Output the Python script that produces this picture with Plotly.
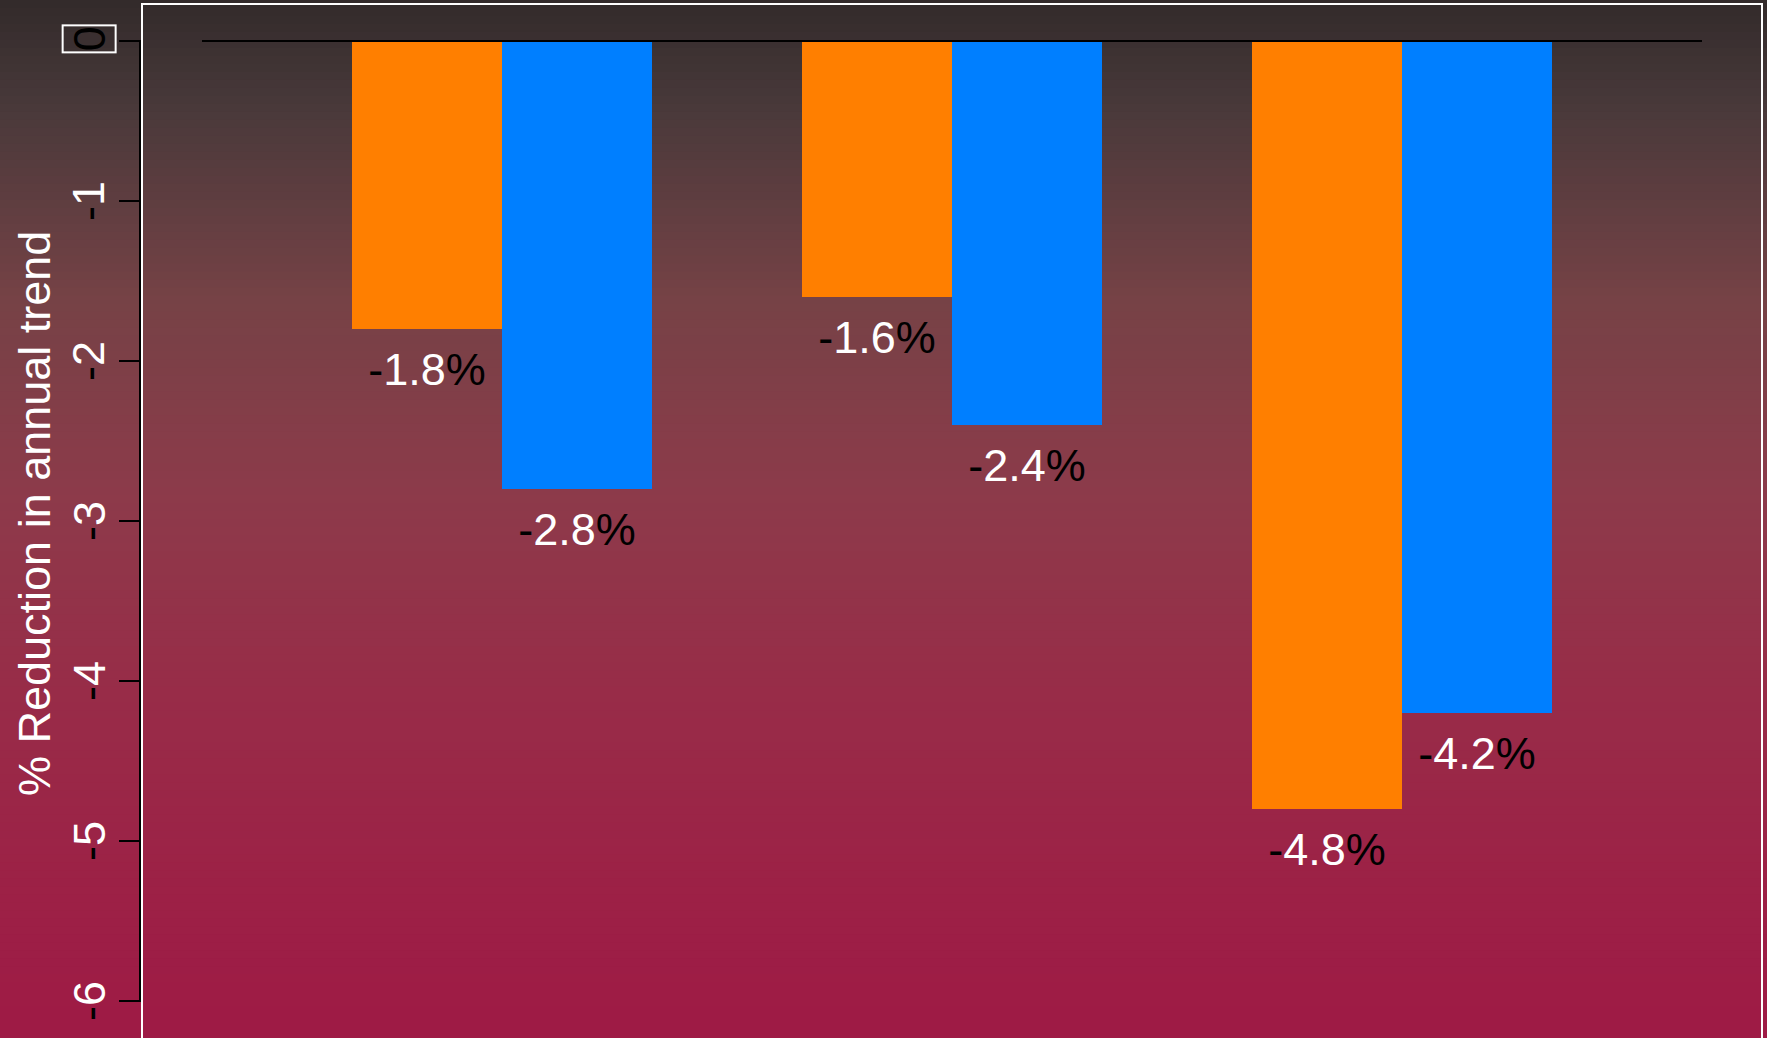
import numpy as np
import plotly.graph_objects as go

# Two bars per group: orange series and blue series (percent change in annual trend)
groups = [0, 1, 2]
orange_values = [-1.8, -1.6, -4.8]
blue_values = [-2.8, -2.4, -4.2]
orange_labels = ["-1.8%", "-1.6%", "-4.8%"]
blue_labels = ["-2.8%", "-2.4%", "-4.2%"]
tick_values = [0, -1, -2, -3, -4, -5, -6]
tick_labels = ["0", "-1", "-2", "-3", "-4", "-5", "-6"]

ORANGE = "#ff7f00"
BLUE = "#007fff"
FONT = "Liberation Sans, Arial, sans-serif"
FS = 45

W, H = 1767, 1038
ML, MR, MT, MB = 142, 5, 4, 0
PW = W - ML - MR
PH = H - MT - MB


def two_tone(s):
    # minus sign and percent glyphs in black, digits in white
    out = ""
    for ch in s:
        if ch in "-%":
            out += '<span style="color:black">' + ch + "</span>"
        else:
            out += ch
    return out


# bar centres: each group holds two unit-width bars after a one-unit gap
x_orange = [3 * g + 1.5 for g in groups]
x_blue = [3 * g + 2.5 for g in groups]

fig = go.Figure()
fig.add_trace(go.Bar(x=x_orange, y=orange_values, width=1.0,
                     marker=dict(color=ORANGE, line=dict(width=0)), showlegend=False))
fig.add_trace(go.Bar(x=x_blue, y=blue_values, width=1.0,
                     marker=dict(color=BLUE, line=dict(width=0)), showlegend=False))

LABEL_OFFSET = 0.28
fig.add_trace(go.Scatter(
    x=x_orange + x_blue,
    y=[v - LABEL_OFFSET for v in orange_values + blue_values],
    text=[two_tone(t) for t in orange_labels + blue_labels],
    mode="text", textposition="middle center",
    textfont=dict(family=FONT, size=FS, color="white"),
    showlegend=False, hoverinfo="skip"))

# vertical background gradient, dark brown at top to crimson at bottom
stops_pos = [0.0, 0.10, 0.29, 0.48, 0.67, 0.87, 1.0]
stops_rgb = np.array([
    [50, 42, 42],
    [72, 57, 58],
    [118, 66, 70],
    [141, 58, 74],
    [152, 44, 72],
    [157, 32, 70],
    [158, 26, 69],
], dtype=float)
shapes = []
n_bands = 130
top_paper = 1 + MT / PH
for i in range(n_bands):
    f = (i + 0.5) / n_bands
    rgb = [np.interp(f, stops_pos, stops_rgb[:, k]) for k in range(3)]
    y1 = top_paper - (i / n_bands) * top_paper
    y0 = top_paper - ((i + 1) / n_bands) * top_paper - 0.002
    shapes.append(dict(type="rect", xref="paper", yref="paper",
                       x0=-ML / PW - 0.01, x1=1 + MR / PW + 0.01, y0=y0, y1=y1,
                       fillcolor="rgb(%d,%d,%d)" % tuple(int(round(c)) for c in rgb),
                       line=dict(width=0), layer="below"))

# white frame round the plotting region
shapes.append(dict(type="rect", xref="paper", yref="paper", x0=0, x1=1, y0=-0.02, y1=1,
                   line=dict(color="white", width=2), fillcolor="rgba(0,0,0,0)", layer="above"))
# left axis spine from 0 to -6
shapes.append(dict(type="line", xref="paper", yref="y", x0=-2 / PW, x1=-2 / PW,
                   y0=tick_values[0], y1=tick_values[-1],
                   line=dict(color="black", width=2), layer="above"))
# baseline at zero across the bar extent
shapes.append(dict(type="line", xref="x", yref="y", x0=0, x1=10, y0=0, y1=0,
                   line=dict(color="black", width=2), layer="above"))

annotations = [
    dict(text="% Reduction in annual trend", xref="paper", yref="paper",
         x=(34 - ML) / PW, y=1 - (514 - MT) / PH, textangle=-90,
         showarrow=False, xanchor="center", yanchor="middle",
         font=dict(family=FONT, size=FS, color="white")),
]

# rotated tick labels; the zero label is boxed in white
TICK_X = (89 - ML) / PW
for v, t in zip(tick_values, tick_labels):
    if v == 0:
        annotations.append(dict(text=t, xref="paper", yref="y", x=TICK_X, y=0.01,
                                textangle=-90, showarrow=False,
                                xanchor="center", yanchor="middle",
                                bordercolor="white", borderwidth=2, borderpad=0,
                                font=dict(family=FONT, size=FS, color="black")))
    else:
        annotations.append(dict(text=two_tone(t), xref="paper", yref="y", x=TICK_X, y=v,
                                textangle=-90, showarrow=False,
                                xanchor="center", yanchor="middle",
                                font=dict(family=FONT, size=FS, color="white")))

fig.update_layout(
    width=W, height=H,
    margin=dict(l=ML, r=MR, t=MT, b=MB, pad=0),
    paper_bgcolor="#9e1a45", plot_bgcolor="rgba(0,0,0,0)",
    barmode="overlay", bargap=0,
    shapes=shapes, annotations=annotations,
    font=dict(family=FONT, size=FS, color="white"),
    xaxis=dict(range=[-0.4, 10.4], showgrid=False, zeroline=False, showline=False,
               showticklabels=False, ticks=""),
    yaxis=dict(range=[-6.231, 0.231], showgrid=False, zeroline=False, showline=False,
               tickmode="array", tickvals=tick_values, showticklabels=False,
               ticks="outside", ticklen=22, tickwidth=2, tickcolor="black"),
)

fig.write_html("out.html")
